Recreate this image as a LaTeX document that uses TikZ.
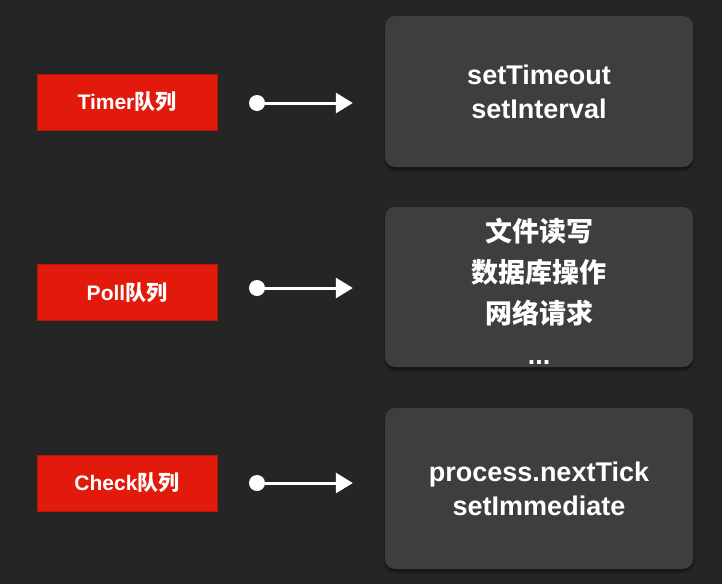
\documentclass[tikz,border=0pt]{standalone}
\usepackage{fontspec}
\setmainfont{Liberation Sans}
\newfontfamily\cjk{Noto Sans CJK SC}
\usetikzlibrary{arrows.meta,positioning,shadows.blur}
\definecolor{StageBg}{RGB}{37,37,37}
\definecolor{QueueRed}{RGB}{226,26,12}
\definecolor{PanelGray}{RGB}{62,62,62}
\tikzset{
  queue/.style={draw=QueueRed!80!black,fill=QueueRed,text=white,
    minimum width=180pt,minimum height=56pt,inner sep=0pt,
    font=\fontsize{21}{24}\selectfont\bfseries},
  panel/.style={fill=PanelGray,rounded corners=10pt,text=white,
    minimum width=308pt,align=center,inner sep=0pt,
    blur shadow={shadow xshift=0pt,shadow yshift=-3pt,shadow blur steps=8,shadow opacity=45},
    font=\fontsize{27}{34}\selectfont\bfseries},
  dot/.style={circle,fill=white,minimum size=16pt,inner sep=0pt},
  flow/.style={-{Triangle[length=17pt,width=20pt]},line width=3pt,white,shorten >=32pt}
}
\begin{document}
\begin{tikzpicture}[x=1pt,y=-1pt]
\fill[StageBg] (0,0) rectangle (722,584);
\useasboundingbox (0,0) rectangle (722,584);
\node[queue] (timerq) at (127,102) {Timer{\cjk 队列}};
\node[queue] (pollq) at (127,292.5) {Poll{\cjk 队列}};
\node[queue] (checkq) at (127,483) {Check{\cjk 队列}};
\node[panel,minimum height=151pt] (timerset) at (539,91.5) {setTimeout\\setInterval};
\node[panel,minimum height=160pt,font=\fontsize{27}{41}\selectfont\bfseries] (pollset) at (539,287)
  {\rule{0pt}{31pt}{\cjk 文件读写}\\{\cjk 数据库操作}\\{\cjk 网络请求}\\...};
\node[panel,minimum height=161pt] (checkset) at (539,488.5) {process.nextTick\\setImmediate};
\node[dot] (timerdot) at (257,103) {};
\node[dot] (polldot) at (257,288) {};
\node[dot] (checkdot) at (257,483) {};
\draw[flow] (timerdot) -- (timerdot -| timerset.west);
\draw[flow] (polldot) -- (polldot -| pollset.west);
\draw[flow] (checkdot) -- (checkdot -| checkset.west);
\end{tikzpicture}
\end{document}
